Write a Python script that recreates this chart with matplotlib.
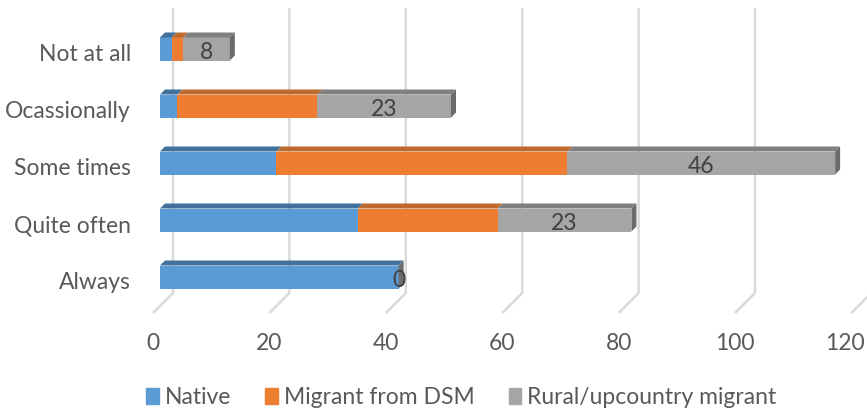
import matplotlib
matplotlib.use("Agg")
import matplotlib.pyplot as plt
from matplotlib.patches import Patch, Polygon

# survey answers, bottom row first
categories = ["Always", "Quite often", "Some times", "Ocassionally", "Not at all"]
native = [41, 34, 20, 3, 2]
migrant_dsm = [0, 24, 50, 24, 2]
rural = [0, 23, 46, 23, 8]
series_names = ["Native", "Migrant from DSM", "Rural/upcountry migrant"]
x_ticks = [0, 20, 40, 60, 80, 100, 120]

front_colors = ["#5B9BD5", "#ED7D31", "#A5A5A5"]
top_colors = ["#41719C", "#BE6A2C", "#7F7F7F"]
side_color = "#6B6B6B"
grid_color = "#D9D9D9"
text_color = "#595959"

plt.rcParams["font.family"] = ["Lato", "DejaVu Sans"]
FS = 16.5

# pixel geometry of the pseudo-3d plot
PX = 5.82      # pixels per data unit along x
ROW = 57.0     # pixels between category rows
bar_h = 23 / ROW
depth_dx, depth_dy = 5 / PX, 5 / ROW     # bar depth (top / side faces)
wall_dx = 13 / PX                        # back wall offset of gridlines
floor_dx, floor_dy = -20 / PX, -20 / ROW

fig = plt.figure(figsize=(8.67, 4.17), dpi=100)
ax = fig.add_axes([0, 0, 1, 1])
ax.set_xlim(-160 / PX, (867 - 160) / PX)
ax.set_ylim((277 - 417) / ROW, 277 / ROW)
ax.axis("off")

# gridlines on the back wall, folding onto the floor
grid_top = (277 - 8) / ROW
floor_y = (277 - 293) / ROW
for v in x_ticks:
    xb = v + wall_dx
    ax.plot([xb, xb, xb + floor_dx], [grid_top, floor_y, floor_y + floor_dy],
            color=grid_color, lw=1.8, zorder=1, solid_capstyle="butt")

# stacked bars with top faces
rows = list(range(len(categories)))
left = [0] * len(categories)
for k, vals in enumerate([native, migrant_dsm, rural]):
    ax.barh(rows, vals, left=left, height=bar_h, color=front_colors[k],
            zorder=3, linewidth=0)
    for i, (l, w) in enumerate(zip(left, vals)):
        if w == 0:
            continue
        top = i + bar_h / 2
        ax.add_patch(Polygon([(l, top), (l + w, top),
                              (l + w + depth_dx, top + depth_dy),
                              (l + depth_dx, top + depth_dy)],
                             closed=True, color=top_colors[k], lw=0, zorder=3))
    left = [a + b for a, b in zip(left, vals)]

# right-hand side faces
for i, total in enumerate(left):
    lo, hi = i - bar_h / 2, i + bar_h / 2
    ax.add_patch(Polygon([(total, lo), (total, hi),
                          (total + depth_dx, hi + depth_dy),
                          (total + depth_dx, lo + depth_dy)],
                         closed=True, color=side_color, lw=0, zorder=3))

# data labels for the rural series
for i in rows:
    start = native[i] + migrant_dsm[i]
    ax.text(start + rural[i] / 2, i - 0.06, str(rural[i]), ha="center",
            va="center", fontsize=FS, color="#404040", zorder=4)

# category labels
for i, cat in enumerate(categories):
    ax.text(-29 / PX, i - 0.1, cat, ha="right", va="center",
            fontsize=FS, color=text_color)

# value axis labels (last one right-aligned so it stays inside the figure)
for v in x_ticks:
    if v == x_ticks[-1]:
        ax.text((865 - 160) / PX, (277 - 343) / ROW, str(v), ha="right",
                va="center", fontsize=FS, color=text_color)
    else:
        ax.text(v - 7 / PX, (277 - 343) / ROW, str(v), ha="center",
                va="center", fontsize=FS, color=text_color)

handles = [Patch(color=c, label=n) for c, n in zip(front_colors, series_names)]
fig.legend(handles=handles, loc="center", bbox_to_anchor=(0.532, 0.046),
           ncol=3, frameon=False, fontsize=FS, labelcolor=text_color,
           handlelength=0.55, handleheight=0.7, handletextpad=0.25,
           columnspacing=1.5)

fig.savefig("out.png", dpi=100, facecolor="white")
